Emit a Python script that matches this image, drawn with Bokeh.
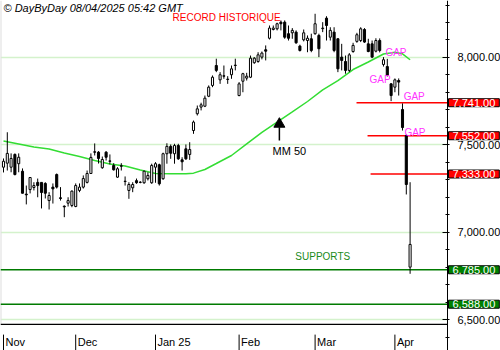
from bokeh.plotting import figure
from bokeh.models import Range1d, FixedTicker, NumeralTickFormatter, Span, Label
from bokeh.embed import file_html
from bokeh.resources import INLINE
from bokeh.core.properties import value

FONT = "Liberation Sans"

# ---------------- data ----------------
opens = [7372, 7395, 7372, 7445, 7392, 7349, 7218, 7244, 7256, 7285,
         7285, 7279, 7181, 7258, 7330, 7197, 7149, 7166, 7153, 7147,
         7239, 7258, 7285, 7336, 7460, 7458, 7369, 7458, 7408, 7382,
         7315, 7380, 7292, 7239, 7254, 7295, 7286, 7283, 7306, 7283,
         7372, 7386, 7306, 7449, 7491, 7449, 7496, 7414, 7477, 7445,
         7582, 7678, 7716, 7721, 7778, 7840, 7954, 7872, 7895, 7876,
         7901, 7956, 7782, 7864, 7882, 7887, 7970, 7977, 8002, 8044,
         8110, 8160, 8164, 8202, 8202, 8136, 8141, 8145, 8065, 8101,
         8097, 8107, 8136, 8126, 8165, 8225, 8116, 8145, 8107, 8002,
         7977, 7926, 8034, 8092, 8097, 8160, 8078, 8078, 8036, 8097,
         7960, 7948, 7849, 7830, 7868, 7702, 7553, 6800]
highs = [7422, 7572, 7451, 7451, 7451, 7365, 7267, 7315, 7286, 7307,
         7286, 7286, 7229, 7279, 7336, 7258, 7153, 7200, 7239, 7279,
         7279, 7325, 7353, 7451, 7508, 7464, 7433, 7464, 7445, 7395,
         7372, 7395, 7319, 7286, 7286, 7307, 7292, 7353, 7343, 7392,
         7401, 7392, 7455, 7509, 7502, 7506, 7506, 7429, 7502, 7515,
         7639, 7725, 7741, 7782, 7840, 7897, 7993, 7916, 7954, 7893,
         7954, 7993, 7859, 7912, 7912, 8011, 8002, 8030, 8034, 8069,
         8183, 8183, 8199, 8212, 8212, 8183, 8168, 8155, 8073, 8160,
         8126, 8136, 8250, 8136, 8202, 8236, 8173, 8173, 8110, 8078,
         8011, 8025, 8084, 8141, 8173, 8168, 8107, 8097, 8110, 8109,
         8002, 7992, 7853, 7880, 7880, 7737, 7559, 7286]
lows = [7342, 7353, 7343, 7325, 7343, 7222, 7159, 7222, 7239, 7200,
        7136, 7193, 7130, 7164, 7250, 7181, 7086, 7147, 7143, 7143,
        7229, 7250, 7279, 7336, 7439, 7393, 7363, 7410, 7388, 7353,
        7311, 7353, 7267, 7191, 7229, 7277, 7280, 7277, 7296, 7277,
        7283, 7267, 7300, 7392, 7420, 7392, 7414, 7353, 7414, 7414,
        7563, 7668, 7697, 7716, 7773, 7830, 7916, 7849, 7878, 7849,
        7878, 7926, 7778, 7801, 7868, 7882, 7964, 7970, 7989, 7983,
        8103, 8155, 8155, 8155, 8107, 8097, 8107, 8078, 8034, 8092,
        8030, 8030, 8130, 8002, 8145, 8097, 8097, 8030, 7916, 7926,
        7907, 7916, 8027, 8084, 8088, 8084, 8030, 7996, 8029, 8029,
        7948, 7891, 7750, 7801, 7782, 7582, 7216, 6762]
closes = [7406, 7451, 7422, 7330, 7429, 7223, 7214, 7313, 7267, 7267,
          7227, 7223, 7210, 7248, 7258, 7193, 7145, 7181, 7235, 7267,
          7258, 7307, 7336, 7428, 7458, 7422, 7416, 7429, 7406, 7357,
          7363, 7378, 7290, 7273, 7273, 7283, 7285, 7349, 7325, 7382,
          7392, 7277, 7449, 7491, 7452, 7496, 7420, 7403, 7420, 7473,
          7630, 7706, 7729, 7767, 7830, 7887, 7926, 7901, 7893, 7874,
          7935, 7954, 7849, 7907, 7893, 7996, 7996, 8015, 8025, 8036,
          8168, 8168, 8193, 8193, 8116, 8110, 8155, 8084, 8040, 8141,
          8110, 8040, 8193, 8050, 8168, 8183, 8155, 8040, 7935, 7983,
          7926, 8015, 8069, 8130, 8164, 8088, 8034, 8002, 8097, 8040,
          7987, 7897, 7782, 7872, 7859, 7599, 7273, 6930]

# 50-day moving average, read at a few candle positions
ma_idx = [0, 4, 8, 12, 16, 20, 24, 28, 32, 36, 40, 44, 48, 50, 53, 56, 60, 64,
          68, 72, 76, 80, 84, 88, 92, 96, 100, 103, 105, 107]
ma_val = [7522, 7505, 7487, 7476, 7453, 7433, 7410, 7390, 7379, 7356, 7336, 7334,
          7334, 7338, 7359, 7393, 7439, 7505, 7571, 7630, 7688, 7748, 7815, 7868,
          7931, 7974, 8020, 8030, 8021, 7987]

month_labels = ["Nov", "Dec", "Jan 25", "Feb", "Mar", "Apr"]
month_idx = [0, 19, 40, 62, 82, 103]

resist_levels = [7741, 7552, 7333]
resist_start = [92.9, 95.8, 96.6]
support_levels = [6785, 6588]
price_ticks = [6500, 7000, 7500, 8000]

# ---------------- figure ----------------
X0, X1 = -0.79, 130.79        # whole 500 px canvas
XAXIS = 116.84                # position of the price axis line
p = figure(width=500, height=350, output_backend="svg", toolbar_location=None,
           x_range=Range1d(X0, X1), y_range=Range1d(6323, 8326),
           y_axis_location="right", x_axis_location=None,
           min_border=0, min_border_left=0, min_border_right=0,
           min_border_top=0, min_border_bottom=0)
p.outline_line_color = None
p.background_fill_color = "white"
p.border_fill_color = "white"
p.xgrid.visible = False

ticker = FixedTicker(ticks=price_ticks, minor_ticks=list(range(6400, 8400, 100)))
ax = p.yaxis[0]
ax.fixed_location = XAXIS
ax.ticker = ticker
ax.formatter = NumeralTickFormatter(format="0,0.00")
ax.major_label_text_font = FONT
ax.major_label_text_font_size = "11px"
ax.major_label_text_color = "black"
ax.major_label_standoff = 8
ax.major_tick_in = 5
ax.major_tick_out = 0
ax.minor_tick_in = 2
ax.minor_tick_out = 2
ax.axis_line_color = "black"
ax.major_tick_line_color = "black"
ax.minor_tick_line_color = "black"
p.ygrid.ticker = ticker
p.ygrid.grid_line_color = "#d4f2cc"
p.ygrid.grid_line_width = 1.5

# white band behind the price axis (hides grid lines there)
p.quad(left=[XAXIS], right=[X1], bottom=[6323], top=[8326], fill_color="white", line_color=None)

# left border strip
p.segment(x0=[X0], y0=[6472], x1=[X0], y1=[8326], line_color="#dddddd", line_width=2)

# support lines
p.segment(x0=[X0] * len(support_levels), y0=support_levels, x1=[XAXIS] * len(support_levels),
          y1=support_levels, line_color="#007a00", line_width=1.5)

# resistance / gap lines
p.segment(x0=resist_start, y0=resist_levels, x1=[XAXIS] * len(resist_levels), y1=resist_levels,
          line_color="#ff0000", line_width=1.5)

# moving average
p.line(ma_idx, ma_val, line_color="#33dd33", line_width=1.5)

# candles
idx = list(range(len(opens)))
p.segment(x0=idx, y0=lows, x1=idx, y1=highs, line_color="black", line_width=1)
tops = [max(o, c) for o, c in zip(opens, closes)]
bots = [min(o, c) for o, c in zip(opens, closes)]
fills = ["white" if c >= o else "black" for o, c in zip(opens, closes)]
p.vbar(x=idx, top=tops, bottom=bots, width=0.55, fill_color=fills, line_color="black", line_width=1)

# bottom date band
p.segment(x0=[X0], y0=[6472], x1=[XAXIS], y1=[6472], line_color="black", line_width=1.2)
p.segment(x0=month_idx, y0=[6414] * len(month_idx), x1=month_idx, y1=[6323] * len(month_idx),
          line_color="black", line_width=1)
p.text(x=month_idx, y=[6369] * len(month_idx), text=month_labels, x_offset=2,
       text_font=value(FONT), text_font_size="11px", text_color="black",
       text_align="left", text_baseline="middle")

# annotations
p.text(x=[44.5], y=[8229], text=["RECORD HISTORIQUE"], text_font=value(FONT),
       text_font_size="10px", text_color="#ff0000", text_align="left", text_baseline="middle")
p.text(x=[70.8], y=[7462], text=["MM 50"], text_font=value(FONT),
       text_font_size="11px", text_color="black", text_align="left", text_baseline="middle")
p.text(x=[76.8], y=[6861], text=["SUPPORTS"], text_font=value(FONT),
       text_font_size="10px", text_color="#1a8a1a", text_align="left", text_baseline="middle")
p.text(x=[100.5, 96.3, 105.3, 105.5], y=[8029, 7874, 7777, 7571], text=["GAP"] * 4,
       text_font=value(FONT), text_font_size="10px", text_color="#ff33ff",
       text_align="left", text_baseline="middle")
p.segment(x0=[72.6], y0=[7600], x1=[72.6], y1=[7525], line_color="black", line_width=1.5)
p.scatter(x=[72.6], y=[7619], marker="triangle", size=11, color="black")

p.add_layout(Label(x=3, y=343, x_units="screen", y_units="screen",
                   text="© DayByDay 08/04/2025  05:42 GMT", text_font=FONT,
                   text_font_size="11px", text_font_style="italic", text_color="black",
                   text_baseline="middle"))

# highlighted price boxes on the axis
def level_box(lv, color):
    p.add_layout(Label(x=XAXIS, y=lv, x_offset=1, text=f"{lv:,.2f}",
                       text_font=FONT, text_font_size="11px", text_color="white",
                       text_baseline="middle", text_align="left",
                       background_fill_color=color, border_line_color="black",
                       padding=dict(left=4, right=4, top=0, bottom=0)))

for lv in resist_levels:
    level_box(lv, "#ff0000")
for lv in support_levels:
    level_box(lv, "#008000")

open("out.html", "w").write(file_html(p, INLINE))
